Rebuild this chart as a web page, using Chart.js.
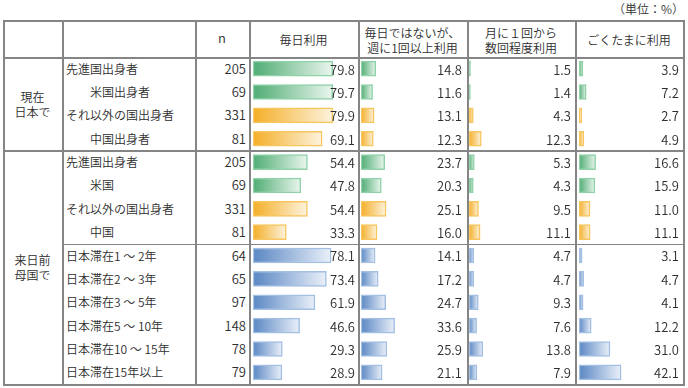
<!DOCTYPE html>
<html lang="ja">
<head>
<meta charset="utf-8">
<script src="https://cdn.jsdelivr.net/npm/chart.js@4/dist/chart.umd.min.js"></script>
<style>
  html, body { margin:0; padding:0; background:#fff; }
  #wrap { position:relative; width:688px; height:388px; overflow:hidden;
          font-family:"Noto Sans CJK JP","Noto Sans",sans-serif; font-weight:350; color:#2e2e2e; }
  .t { position:absolute; white-space:pre; line-height:15px; }
  .ln { position:absolute; background:#858585; z-index:5; }
  canvas { position:absolute; }
</style>
</head>
<body>
<div id="wrap"></div>
<script>
// ---------- data ----------
const unitLabel = '（単位：%）';
const groupLabels = ['現在\n日本で', '来日前\n母国で'];
const groupSizes = [4, 10];
const categories = ['先進国出身者','米国出身者','それ以外の国出身者','中国出身者',
  '先進国出身者','米国','それ以外の国出身者','中国',
  '日本滞在1 ～ 2年','日本滞在2 ～ 3年','日本滞在3 ～ 5年','日本滞在5 ～ 10年','日本滞在10 ～ 15年','日本滞在15年以上'];
const nLabel = 'n';
const nValues = [205,69,331,81,205,69,331,81,64,65,97,148,78,79];
const columnHeaders = ['毎日利用','毎日ではないが、\n週に1回以上利用','月に１回から\n数回程度利用','ごくたまに利用'];
const daily   = [79.8,79.7,79.9,69.1,54.4,47.8,54.4,33.3,78.1,73.4,61.9,46.6,29.3,28.9];
const weekly  = [14.8,11.6,13.1,12.3,23.7,20.3,25.1,16.0,14.1,17.2,24.7,33.6,25.9,21.1];
const monthly = [1.5,1.4,4.3,12.3,5.3,4.3,9.5,11.1,4.7,4.7,9.3,7.6,13.8,7.9];
const rarely  = [3.9,7.2,2.7,4.9,16.6,15.9,11.0,11.1,3.1,4.7,4.1,12.2,31.0,42.1];

// ---------- styles / layout ----------
const indentRows = [1,3,5,7];
const rowPalette = ['g','g','o','o','g','g','o','o','b','b','b','b','b','b'];
const palette = {
  g: { from:'#4fac73', to:'#eaf6ee', border:'#8fd2a8' },
  o: { from:'#f4ae27', to:'#fdf3de', border:'#f7c65e' },
  b: { from:'#5a87c3', to:'#eaf0f9', border:'#a3bfe3' }
};
const top0 = 20, headBottom = 57, bottom = 384;
const rowH = (bottom - headBottom) / categories.length;
const colX = [3, 62, 195, 249, 358, 467, 575, 683];
const chartCols = [
  { left:249, right:358, padL:4, padR:5, labelInset:3 },
  { left:358, right:467, padL:3, padR:6, labelInset:5 },
  { left:467, right:575, padL:2, padR:6, labelInset:4 },
  { left:575, right:683, padL:4, padR:4, labelInset:4 }
];
const seriesList = [daily, weekly, monthly, rarely];

const wrap = document.getElementById('wrap');
function addText(txt, css) {
  const d = document.createElement('div');
  d.className = 't';
  d.textContent = txt;
  Object.assign(d.style, css);
  wrap.appendChild(d);
  return d;
}
function addLine(x, y, w, h) {
  const d = document.createElement('div');
  d.className = 'ln';
  Object.assign(d.style, { left:x+'px', top:y+'px', width:w+'px', height:h+'px' });
  wrap.appendChild(d);
}

// grid lines
const lw = 1.5;
[top0, headBottom, headBottom + rowH*4, bottom].forEach(y => addLine(colX[0], y, colX[7]-colX[0]+lw, lw));
addLine(colX[1], headBottom + rowH*8, colX[7]-colX[1]+lw, lw);
colX.forEach(x => addLine(x, top0, lw, bottom-top0+lw));

// unit label
addText(unitLabel, { right:'4px', top:'1px', fontSize:'12px' });

// header
addText(nLabel, { left:colX[2]+'px', width:(colX[3]-colX[2])+'px', textAlign:'center',
  top:(top0+10)+'px', fontSize:'13px' });
columnHeaders.forEach((h, i) => {
  const lines = h.split('\n').length;
  const c = chartCols[i];
  addText(h, { left:c.left+'px', width:(c.right-c.left)+'px', textAlign:'center',
    top:((top0+headBottom)/2 - lines*7.5 + 1)+'px', fontSize:'12px' });
});

// group labels
let start = 0;
groupLabels.forEach((g, i) => {
  const y0 = headBottom + start*rowH, y1 = headBottom + (start+groupSizes[i])*rowH;
  addText(g, { left:colX[0]+'px', width:(colX[1]-colX[0])+'px', textAlign:'center',
    top:((y0+y1)/2 - 15)+'px', fontSize:'12px' });
  start += groupSizes[i];
});

// categories and n
categories.forEach((c, i) => {
  const cy = headBottom + rowH*(i+0.5);
  addText(c, { left:(indentRows.includes(i) ? 90 : 66)+'px', top:(cy-8)+'px', fontSize:'12px' });
  addText(String(nValues[i]), { right:(688-246)+'px', top:(cy-8)+'px', fontSize:'13px' });
});

// value label plugin
const valueLabels = {
  id:'valueLabels',
  afterDatasetsDraw(chart, args, opts) {
    const ctx = chart.ctx;
    const meta = chart.getDatasetMeta(0);
    const data = chart.data.datasets[0].data;
    ctx.save();
    ctx.font = '350 13px "Noto Sans CJK JP", "Noto Sans", sans-serif';
    ctx.fillStyle = '#2e2e2e';
    ctx.textAlign = 'right';
    ctx.textBaseline = 'middle';
    meta.data.forEach((el, i) => {
      ctx.fillText(data[i].toFixed(1), chart.width - opts.inset, el.y + 1);
    });
    ctx.restore();
  }
};

// charts
seriesList.forEach((values, ci) => {
  const c = chartCols[ci];
  const cv = document.createElement('canvas');
  const w = c.right - c.left, h = bottom - headBottom;
  cv.width = w; cv.height = h;
  Object.assign(cv.style, { left:c.left+'px', top:headBottom+'px', width:w+'px', height:h+'px' });
  wrap.appendChild(cv);
  new Chart(cv, {
    type:'bar',
    data:{
      labels: categories,
      datasets:[{
        data: values,
        backgroundColor: (ctx) => {
          const p = palette[rowPalette[ctx.dataIndex] || 'g'];
          const sx = ctx.chart.scales && ctx.chart.scales.x;
          if (ctx.type !== 'data' || !sx || !ctx.chart.chartArea) return p.from;
          const x0 = sx.getPixelForValue(0), x1 = sx.getPixelForValue(ctx.raw);
          const g = ctx.chart.ctx.createLinearGradient(x0, 0, Math.max(x1, x0+1), 0);
          g.addColorStop(0, p.from);
          g.addColorStop(1, p.to);
          return g;
        },
        borderColor: (ctx) => palette[rowPalette[ctx.dataIndex] || 'g'].border,
        borderWidth: 1.5,
        borderSkipped: false,
        barThickness: 15
      }]
    },
    options:{
      indexAxis:'y',
      responsive:false,
      animation:false,
      layout:{ padding:{ left:c.padL, right:c.padR, top:0, bottom:0 } },
      scales:{
        x:{ display:false, min:0, max:100 },
        y:{ display:false }
      },
      plugins:{ legend:{display:false}, tooltip:{enabled:false}, valueLabels:{ inset:c.labelInset } }
    },
    plugins:[valueLabels]
  });
});
</script>
</body>
</html>
